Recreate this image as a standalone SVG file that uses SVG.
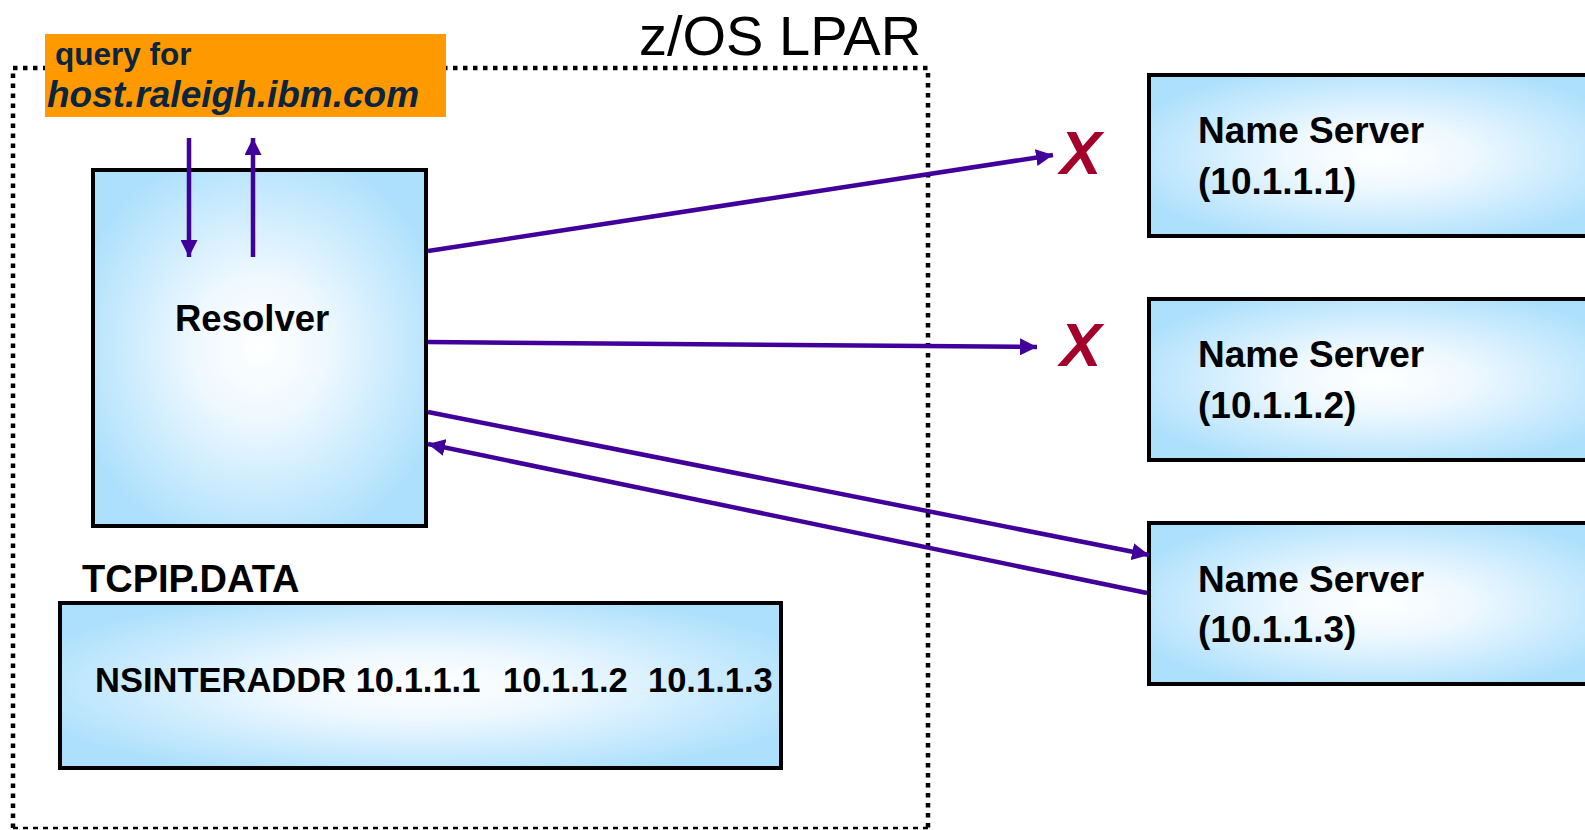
<svg xmlns="http://www.w3.org/2000/svg" width="1585" height="830" viewBox="0 0 1585 830">
  <style>
    .box { stroke: #000; stroke-width: 4; fill: url(#blueGrad); }
    .lbl { font-family: "Liberation Sans", Arial, sans-serif; font-weight: bold; fill: #000; }
    .conn { stroke: #400099; stroke-width: 4.5; fill: none; }
    .x { font-family: "Liberation Sans", Arial, sans-serif; font-weight: bold; font-style: italic; fill: #a3002a; font-size: 62px; }
  </style>
  <defs>
    <radialGradient id="blueGrad" cx="50%" cy="50%" r="58%">
      <stop offset="0" stop-color="#ffffff"/>
      <stop offset="0.35" stop-color="#eef8ff"/>
      <stop offset="1" stop-color="#ade0fc"/>
    </radialGradient>
    <marker id="arr" viewBox="0 0 16 16" refX="16" refY="8" markerWidth="17" markerHeight="17" markerUnits="userSpaceOnUse" orient="auto">
      <path d="M0,0 L16,8 L0,16 Z" fill="#400099"/>
    </marker>
  </defs>
  <rect width="1585" height="830" fill="#ffffff"/>

  <g id="lpar">
    <path d="M13,828 L13,68 L928,68 L928,828" fill="none" stroke="#000" stroke-width="4.5" stroke-dasharray="4.5 5.5"/>
    <line x1="13" y1="828" x2="928" y2="828" stroke="#000" stroke-width="2.5" stroke-dasharray="5 5"/>
    <text x="639" y="55" font-family="Liberation Sans, Arial, sans-serif" font-size="56" fill="#000">z/OS LPAR</text>
  </g>

  <g id="query">
    <rect x="45" y="34" width="401" height="83" fill="#ff9900"/>
    <text x="55" y="65" font-family="Liberation Sans, Arial, sans-serif" font-weight="bold" font-size="31.5" fill="#0a2542">query for</text>
    <text x="47" y="107" font-family="Liberation Sans, Arial, sans-serif" font-weight="bold" font-style="italic" font-size="37" fill="#0a2542">host.raleigh.ibm.com</text>
  </g>

  <g id="resolver">
    <rect class="box" x="93" y="170" width="333" height="356"/>
    <text class="lbl" x="175" y="331" font-size="36.5">Resolver</text>
  </g>

  <g id="tcpipdata">
    <text class="lbl" x="82" y="592" font-size="38">TCPIP.DATA</text>
    <rect class="box" x="60" y="603" width="721" height="165"/>
    <text class="lbl" y="692" font-size="34.5"><tspan x="95">NSINTERADDR 10.1.1.1</tspan><tspan x="503">10.1.1.2</tspan><tspan x="648">10.1.1.3</tspan></text>
  </g>

  <g id="ns1">
    <rect class="box" x="1149" y="75" width="460" height="161"/>
    <text class="lbl" x="1198" y="143" font-size="37">Name Server</text>
    <text class="lbl" x="1198" y="194" font-size="37">(10.1.1.1)</text>
  </g>
  <g id="ns2">
    <rect class="box" x="1149" y="299" width="460" height="161"/>
    <text class="lbl" x="1198" y="367" font-size="37">Name Server</text>
    <text class="lbl" x="1198" y="418" font-size="37">(10.1.1.2)</text>
  </g>
  <g id="ns3">
    <rect class="box" x="1149" y="523" width="460" height="161"/>
    <text class="lbl" x="1198" y="592" font-size="37">Name Server</text>
    <text class="lbl" x="1198" y="642" font-size="37">(10.1.1.3)</text>
  </g>

  <g id="failmarks">
    <text class="x" x="1060" y="174">X</text>
    <text class="x" x="1060" y="366">X</text>
  </g>

  <g id="connectors">
    <line class="conn" x1="189" y1="138" x2="189" y2="257" marker-end="url(#arr)"/>
    <line class="conn" x1="253" y1="257" x2="253" y2="138" marker-end="url(#arr)"/>
    <line class="conn" x1="428" y1="251" x2="1053" y2="155" marker-end="url(#arr)"/>
    <line class="conn" x1="428" y1="342" x2="1037" y2="347" marker-end="url(#arr)"/>
    <line class="conn" x1="428" y1="412" x2="1149" y2="555" marker-end="url(#arr)"/>
    <line class="conn" x1="1147" y1="593" x2="428" y2="444" marker-end="url(#arr)"/>
  </g>
</svg>
